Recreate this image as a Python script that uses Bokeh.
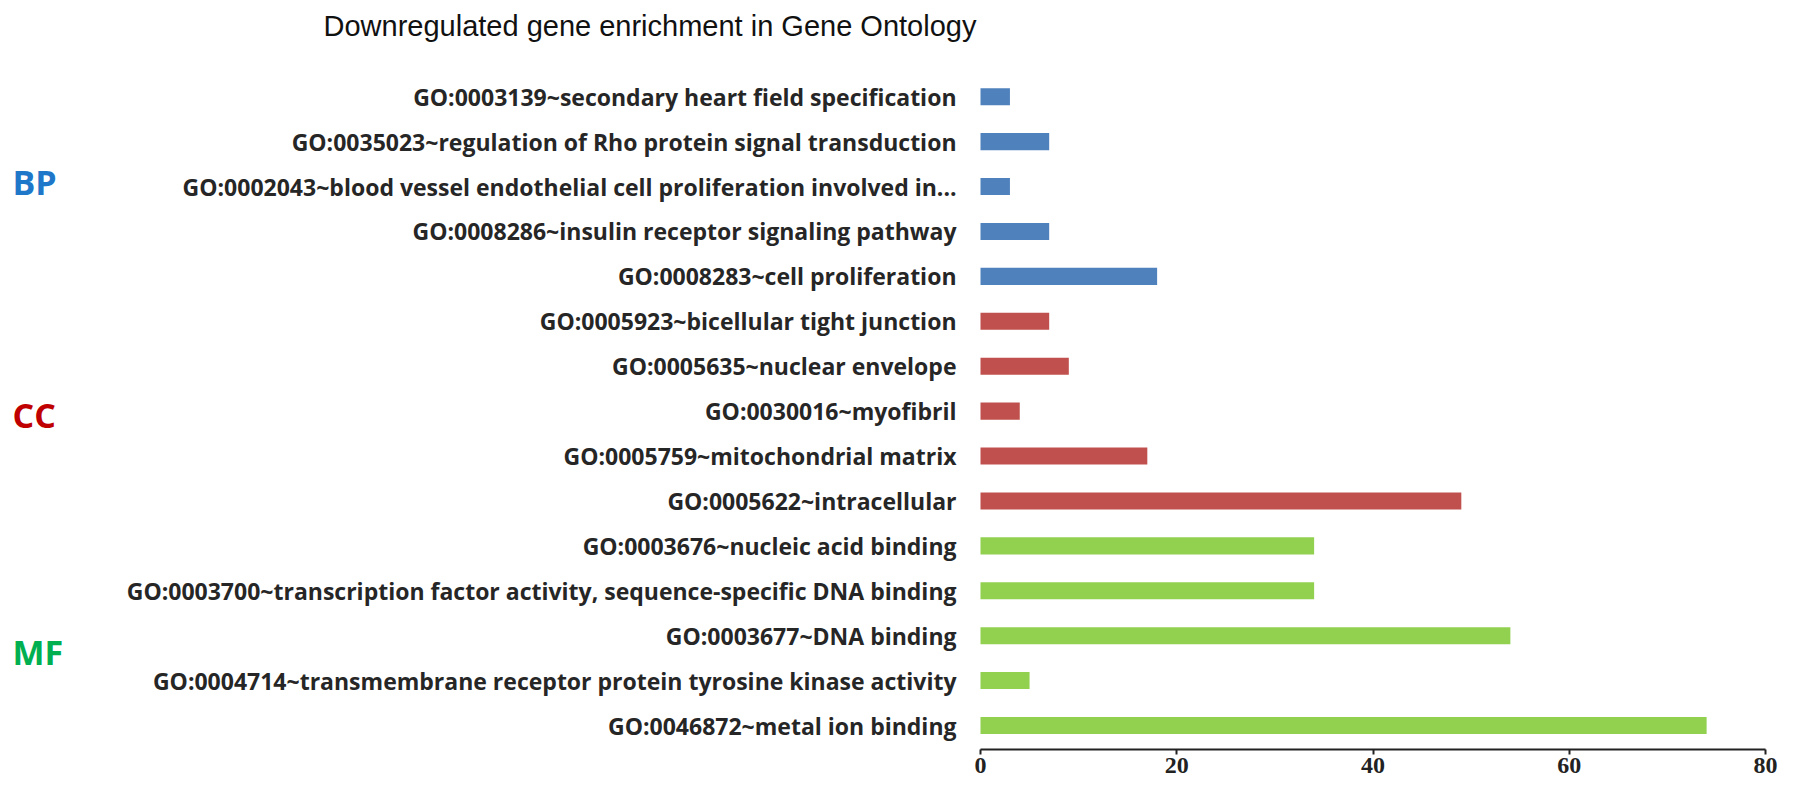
from bokeh.plotting import figure
from bokeh.models import ColumnDataSource, FixedTicker
from bokeh.core.properties import value
from bokeh.embed import file_html
from bokeh.resources import INLINE

title_text = "Downregulated gene enrichment in Gene Ontology"

terms = [
    "GO:0003139~secondary heart field specification",
    "GO:0035023~regulation of Rho protein signal transduction",
    "GO:0002043~blood vessel endothelial cell proliferation involved in...",
    "GO:0008286~insulin receptor signaling pathway",
    "GO:0008283~cell proliferation",
    "GO:0005923~bicellular tight junction",
    "GO:0005635~nuclear envelope",
    "GO:0030016~myofibril",
    "GO:0005759~mitochondrial matrix",
    "GO:0005622~intracellular",
    "GO:0003676~nucleic acid binding",
    "GO:0003700~transcription factor activity, sequence-specific DNA binding",
    "GO:0003677~DNA binding",
    "GO:0004714~transmembrane receptor protein tyrosine kinase activity",
    "GO:0046872~metal ion binding",
]
counts = [3, 7, 3, 7, 18, 7, 9, 4, 17, 49, 34, 34, 54, 5, 74]
groups = ["BP", "BP", "BP", "BP", "BP",
          "CC", "CC", "CC", "CC", "CC",
          "MF", "MF", "MF", "MF", "MF"]
group_names = ["BP", "CC", "MF"]
x_ticks = [0, 20, 40, 60, 80]

bar_colors = {"BP": "#4F81BD", "CC": "#C0504D", "MF": "#92D050"}
label_colors = {"BP": "#1F77C9", "CC": "#C00000", "MF": "#00B050"}

W, H = 1779, 785
# pixel layout targets (figure coordinates)
x0_px, x80_px = 980.0, 1765.0
ppu_x = (x80_px - x0_px) / 80.0
frame_bottom = 749.0
top_bar_px, bottom_bar_px = 96.2, 725.0
n = len(terms)
ppu_y = (bottom_bar_px - top_bar_px) / (n - 1)

x_start = -x0_px / ppu_x
x_end = 80 + (W - x80_px) / ppu_x


def px_to_x(px):
    return (px - x0_px) / ppu_x


def px_to_y(py):
    return (bottom_bar_px - py) / ppu_y


y_start = px_to_y(frame_bottom)
y_end = px_to_y(0)

ys = [n - 1 - i for i in range(n)]
src = ColumnDataSource(dict(
    y=ys, right=counts, term=terms,
    color=[bar_colors[g] for g in groups],
))

p = figure(width=W, height=H, output_backend="svg", toolbar_location=None,
           x_range=(x_start, x_end), y_range=(y_start, y_end),
           y_axis_location=None, min_border=0, min_border_left=0,
           min_border_right=0, min_border_top=0,
           min_border_bottom=int(H - frame_bottom))
p.outline_line_color = None
p.xgrid.visible = False
p.ygrid.visible = False
p.background_fill_color = "white"
p.border_fill_color = "white"

p.hbar(y="y", left=0, right="right", height=0.38, color="color",
       line_color=None, source=src)

p.text(x=px_to_x(956), y="y", text="term", source=src,
       text_align="right", text_baseline="middle",
       text_font=value("Open Sans"), text_font_style="bold",
       text_font_size="23px", text_color="#262626")

# group labels
grp_y = {"BP": px_to_y(181), "CC": px_to_y(414), "MF": px_to_y(651)}
for g in group_names:
    p.text(x=[px_to_x(12)], y=[grp_y[g]], text=[g],
           text_align="left", text_baseline="middle",
           text_font=value("Open Sans"), text_font_style="bold",
           text_font_size="34px", text_color=label_colors[g])

# title
p.text(x=[px_to_x(323)], y=[px_to_y(25)], text=[title_text],
       text_align="left", text_baseline="middle",
       text_font=value("Liberation Sans"), text_font_size="29px",
       text_color="#111111")

ax = p.xaxis[0]
ax.ticker = FixedTicker(ticks=x_ticks)
ax.bounds = (0, 80)
ax.axis_line_color = "#222222"
ax.axis_line_width = 2
ax.major_tick_line_color = "#222222"
ax.major_tick_line_width = 2
ax.major_tick_out = 5
ax.major_tick_in = 0
ax.minor_tick_line_color = None
ax.major_label_standoff = 3
ax.major_label_text_font = "Liberation Serif"
ax.major_label_text_font_style = "bold"
ax.major_label_text_font_size = "24px"
ax.major_label_text_color = "#222222"

open("out.html", "w").write(file_html(p, INLINE))
